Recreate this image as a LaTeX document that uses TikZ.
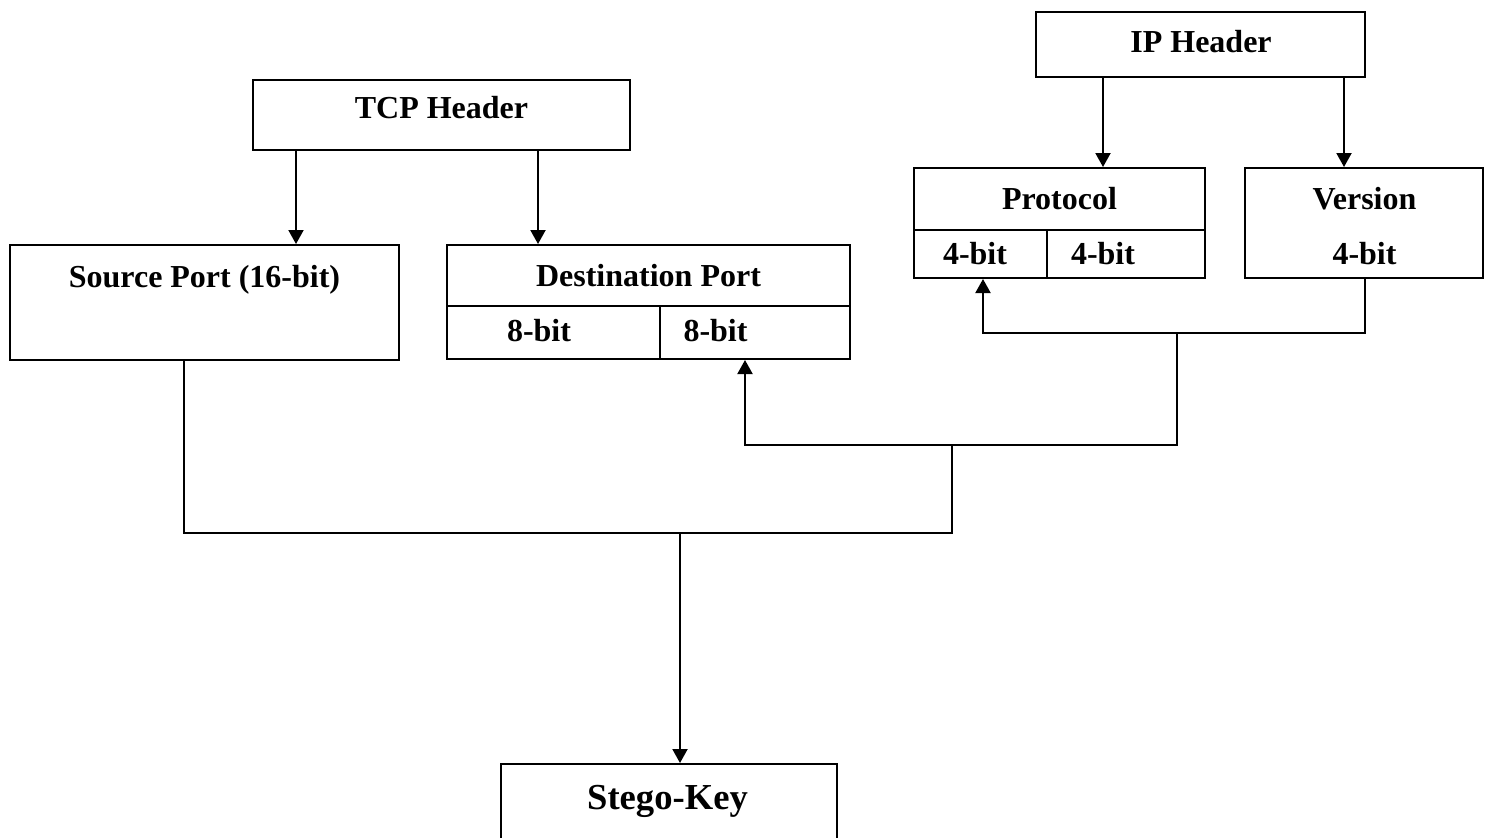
\documentclass[tikz,border=0pt]{standalone}
\usepackage{fontspec}
\setmainfont{Liberation Serif}
\usetikzlibrary{arrows.meta}
\tikzset{
  box/.style={draw, line width=1pt, rectangle, inner sep=0pt, fill=none},
  lbl/.style={anchor=base, inner sep=0pt, font=\bfseries\fontsize{16pt}{19pt}\selectfont},
  biglbl/.style={anchor=base, inner sep=0pt, font=\bfseries\fontsize{18.3pt}{22pt}\selectfont},
  wire/.style={line width=1pt},
  arr/.style={line width=1pt, -{Triangle[length=7pt,width=7.5pt]}},
}
\begin{document}
\begin{tikzpicture}[x=0.5pt,y=-0.5pt]
\clip (0,0) rectangle (1485,837);
\fill[white] (0,0) rectangle (1485,837);

% boxes
\node[box, minimum width=188.5pt, minimum height=35pt]   (tcp)   at (441.5,115) {};
\node[box, minimum width=194.5pt, minimum height=57.5pt] (src)   at (204.5,302.5) {};
\node[box, minimum width=201.5pt, minimum height=57pt]   (dst)   at (648.5,302) {};
\node[box, minimum width=164.5pt, minimum height=32.5pt] (ip)    at (1200.5,44.5) {};
\node[box, minimum width=145.5pt, minimum height=55pt]   (proto) at (1059.5,223) {};
\node[box, minimum width=119pt,   minimum height=55pt]   (ver)   at (1364,223) {};
\node[box, minimum width=168pt,   minimum height=70pt]   (key)   at (669,834) {};

% field dividers
\coordinate (dsplit) at (660,306);
\draw[wire] (dst.west |- dsplit) -- (dst.east |- dsplit);
\draw[wire] (dsplit) -- (dsplit |- dst.south);
\coordinate (psplit) at (1047,230);
\draw[wire] (proto.west |- psplit) -- (proto.east |- psplit);
\draw[wire] (psplit) -- (psplit |- proto.south);

% labels
\node[lbl] (tTcp)   at (441.5,118) {TCP Header};
\node[lbl] (tSrc)   at (204.5,287) {Source Port (16-bit)};
\node[lbl] (tDst)   at (648.5,286) {Destination Port};
\node[lbl] (tD1)    at (539,341)   {8-bit};
\node[lbl] (tD2)    at (715.5,341) {8-bit};
\node[lbl] (tIp)    at (1201,52)   {IP Header};
\node[lbl] (tProto) at (1059.5,209) {Protocol};
\node[lbl] (tP1)    at (975,264)   {4-bit};
\node[lbl] (tP2)    at (1103,264)  {4-bit};
\node[lbl] (tVer)   at (1364.5,209) {Version};
\node[lbl] (tV1)    at (1364.5,264) {4-bit};
\node[biglbl] (tKey) at (667.5,809) {Stego-Key};

% routing points
\coordinate (xs) at (296,0);
\coordinate (xd) at (538,0);
\coordinate (xp) at (1103,0);
\coordinate (xv) at (1344,0);
\coordinate (jA) at (983,333);
\coordinate (jB) at (1365,333);
\coordinate (jC) at (1177,333);
\coordinate (jD) at (1177,445);
\coordinate (jE) at (745,445);
\coordinate (jF) at (952,445);
\coordinate (jG) at (952,533);
\coordinate (jH) at (184,533);
\coordinate (jK) at (680,533);

% header to fields
\draw[arr] (tcp.south -| xs) -- (src.north -| xs);
\draw[arr] (tcp.south -| xd) -- (dst.north -| xd);
\draw[arr] (ip.south -| xp) -- (proto.north -| xp);
\draw[arr] (ip.south -| xv) -- (ver.north -| xv);

% version bits into protocol
\draw[arr] (ver.south -| jB) -- (jB) -- (jA) -- (proto.south -| jA);
% IP bits into destination port
\draw[arr] (jC) -- (jD) -- (jE) -- (dst.south -| jE);
% combine into the key
\draw[wire] (jF) -- (jG) -- (jH) -- (src.south -| jH);
\draw[arr] (jK) -- (key.north -| jK);
\end{tikzpicture}
\end{document}
